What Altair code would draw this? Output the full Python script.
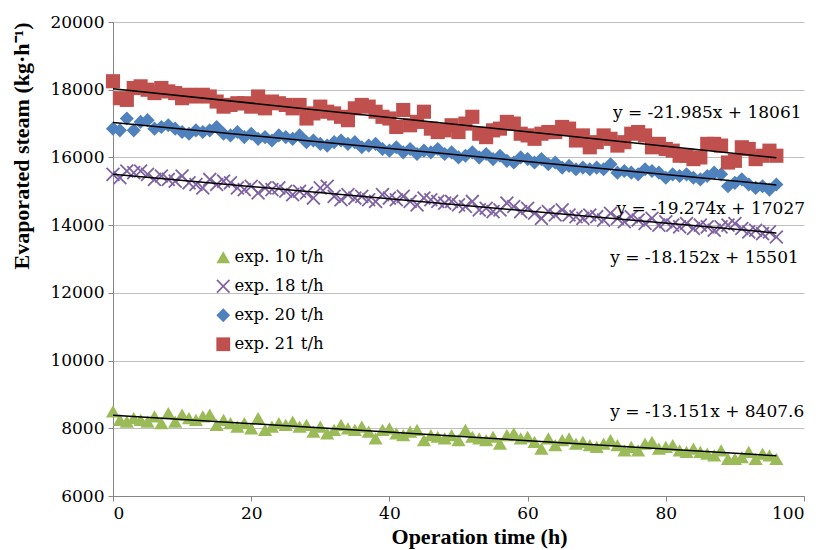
import altair as alt
import pandas as pd

hours = list(range(0, 97))

exp21 = [18250, 17750, 17700, 18050, 18100, 18000, 17900, 18050, 17950, 17900,
         17750, 17850, 17800, 17850, 17800, 17650, 17500, 17550, 17600, 17600,
         17500, 17800, 17450, 17650, 17600, 17550, 17450, 17550, 17150, 17300,
         17500, 17350, 17300, 17200, 17100, 17450, 17550, 17500, 17350, 17200,
         17150, 16900, 17400, 16950, 17050, 17350, 16850, 16750, 16800, 16950,
         16750, 17000, 17200, 16700, 16600, 16800, 16850, 17050, 17000, 16700,
         16650, 16550, 16700, 16750, 16750, 16900, 16850, 16500, 16650, 16300,
         16450, 16650, 16550, 16350, 16450, 16700, 16750, 16650, 16300, 16400,
         16250, 16200, 16050, 16050, 15950, 16000, 16400, 16400, 16350, 15850,
         15900, 16300, 16250, 15950, 16050, 16200, 16050]

exp20 = [16850, 16800, 17150, 16800, 17050, 17100, 16850, 16900, 16950, 16850,
         16750, 16700, 16800, 16750, 16800, 16900, 16700, 16650, 16750, 16600,
         16700, 16550, 16600, 16500, 16650, 16600, 16550, 16650, 16450, 16500,
         16400, 16350, 16450, 16500, 16400, 16450, 16300, 16350, 16400, 16250,
         16200, 16300, 16150, 16250, 16100, 16200, 16150, 16250, 16100, 16150,
         16000, 16050, 16150, 16000, 16100, 15950, 16050, 15900, 15850, 16000,
         15950, 15850, 15950, 15800, 15850, 15700, 15750, 15650, 15700, 15650,
         15700, 15650, 15800, 15550, 15600, 15550, 15500, 15650, 15600, 15550,
         15400, 15500, 15450, 15500, 15400, 15350, 15450, 15550, 15500, 15150,
         15250, 15350, 15200, 15100, 15150, 15050, 15200]

exp18 = [15500, 15400, 15600, 15550, 15600, 15500, 15350, 15450, 15350, 15300,
         15450, 15250, 15200, 15100, 15350, 15200, 15300, 15250, 15100, 15050,
         15150, 14950, 15100, 15050, 15100, 15000, 14900, 15000, 14950, 14800,
         15100, 15150, 14850, 14750, 14900, 14800, 14850, 14750, 14700, 14900,
         14800, 14750, 14850, 14700, 14600, 14800, 14750, 14700, 14650, 14700,
         14600, 14550, 14700, 14450, 14500, 14400, 14450, 14650, 14550, 14400,
         14500, 14350, 14200, 14400, 14300, 14450, 14300, 14250, 14200, 14300,
         14250, 14150, 14350, 14200, 14100, 14250, 14150, 14050, 14200, 14000,
         14100, 14000, 13950, 14050, 13900, 14000, 13950, 13850, 13950, 14000,
         14050, 13900, 13800, 13850, 13750, 13800, 13650]

exp10 = [8500, 8250, 8200, 8300, 8250, 8200, 8350, 8150, 8450, 8200,
         8400, 8300, 8250, 8350, 8400, 8100, 8250, 8150, 8050, 8150,
         8000, 8300, 7950, 8050, 8150, 8100, 8200, 8050, 8100, 7900,
         8050, 7850, 7950, 8100, 8000, 7950, 8050, 7900, 7700, 7950,
         8000, 7850, 7800, 7900, 7950, 7650, 7800, 7750, 7700, 7800,
         7650, 7950, 7750, 7700, 7650, 7750, 7550, 7800, 7850, 7700,
         7750, 7600, 7400, 7700, 7500, 7650, 7700, 7550, 7600, 7500,
         7450, 7550, 7650, 7500, 7350, 7450, 7350, 7550, 7600, 7400,
         7450, 7500, 7350, 7300, 7400, 7300, 7250, 7200, 7350, 7100,
         7100, 7150, 7300, 7100, 7250, 7200, 7100]

series_names = ["exp. 10 t/h", "exp. 18 t/h", "exp. 20 t/h", "exp. 21 t/h"]
series_colors = ["#9BBB59", "#8064A2", "#4F81BD", "#C0504D"]
x_shape = ("M-1,-0.82L-0.82,-1L0,-0.18L0.82,-1L1,-0.82L0.18,0L1,0.82L0.82,1"
           "L0,0.18L-0.82,1L-1,0.82L-0.18,0Z")
series_shapes = ["triangle-up", x_shape, "diamond", "square"]

eq_texts = ["y = -21.985x + 18061", "y = -19.274x + 17027",
            "y = -18.152x + 15501", "y = -13.151x + 8407.6"]
eq_x = [86, 86.5, 85.6, 86]
eq_y = [17312, 14476, 13030, 8480]

rows = []
for name, vals in zip(series_names, [exp10, exp18, exp20, exp21]):
    for h, v in zip(hours, vals):
        rows.append({"series": name, "hour": h, "steam": v})
df = pd.DataFrame(rows)
eq_df = pd.DataFrame({"x": eq_x, "y": eq_y, "text": eq_texts})

FONT_B = "Liberation Serif"
FONT_R = "DejaVu Serif"

xscale = alt.Scale(domain=[0, 100], nice=False)
yscale = alt.Scale(domain=[6000, 20000], nice=False)

points = alt.Chart(df).mark_point(filled=True, opacity=1).encode(
    x=alt.X("hour:Q", scale=xscale,
            axis=alt.Axis(title="Operation time (h)", values=[0, 20, 40, 60, 80, 100],
                          grid=False, format="d", titleX=366, titleAlign="center",
                          titleBaseline="top", titleY=30)),
    y=alt.Y("steam:Q", scale=yscale,
            axis=alt.Axis(title="Evaporated steam (kg·h⁻¹)", format="d",
                          values=list(range(6000, 20001, 2000)), grid=True,
                          titleAnchor="end")),
    color=alt.Color("series:N", scale=alt.Scale(domain=series_names, range=series_colors),
                    legend=alt.Legend(title=None, orient="none", legendX=102, legendY=227,
                                      labelFontSize=16.5, labelFont=FONT_R,
                                      labelColor="black",
                                      symbolSize=190, rowPadding=12, labelOffset=3)),
    shape=alt.Shape("series:N", scale=alt.Scale(domain=series_names, range=series_shapes)),
    size=alt.value(200),
)

trend = alt.Chart(df).transform_regression(
    "hour", "steam", groupby=["series"], extent=[0, 96]
).mark_line(color="black", strokeWidth=1.5).encode(
    x=alt.X("hour:Q", scale=xscale),
    y=alt.Y("steam:Q", scale=yscale),
    detail="series:N",
)

labels = alt.Chart(eq_df).mark_text(font=FONT_R, fontSize=17, color="black",
                                    align="center", baseline="middle").encode(
    x=alt.X("x:Q", scale=xscale),
    y=alt.Y("y:Q", scale=yscale),
    text="text:N",
)

chart = alt.layer(points, trend, labels).properties(
    width=691, height=474, padding={"left": 2, "top": 5, "right": 5, "bottom": 2}
).configure_view(stroke=None).configure_axis(
    labelFont=FONT_R, labelFontSize=17, labelColor="black",
    titleFont=FONT_B, titleFontSize=22, titleFontWeight="bold", titleColor="black",
    domainColor="#868686", tickColor="#868686", gridColor="#BFBFBF",
    tickSize=5, labelPadding=4
).configure_axisY(titlePadding=16)

chart.save("out.html", embed_options={"renderer": "svg", "actions": False})
